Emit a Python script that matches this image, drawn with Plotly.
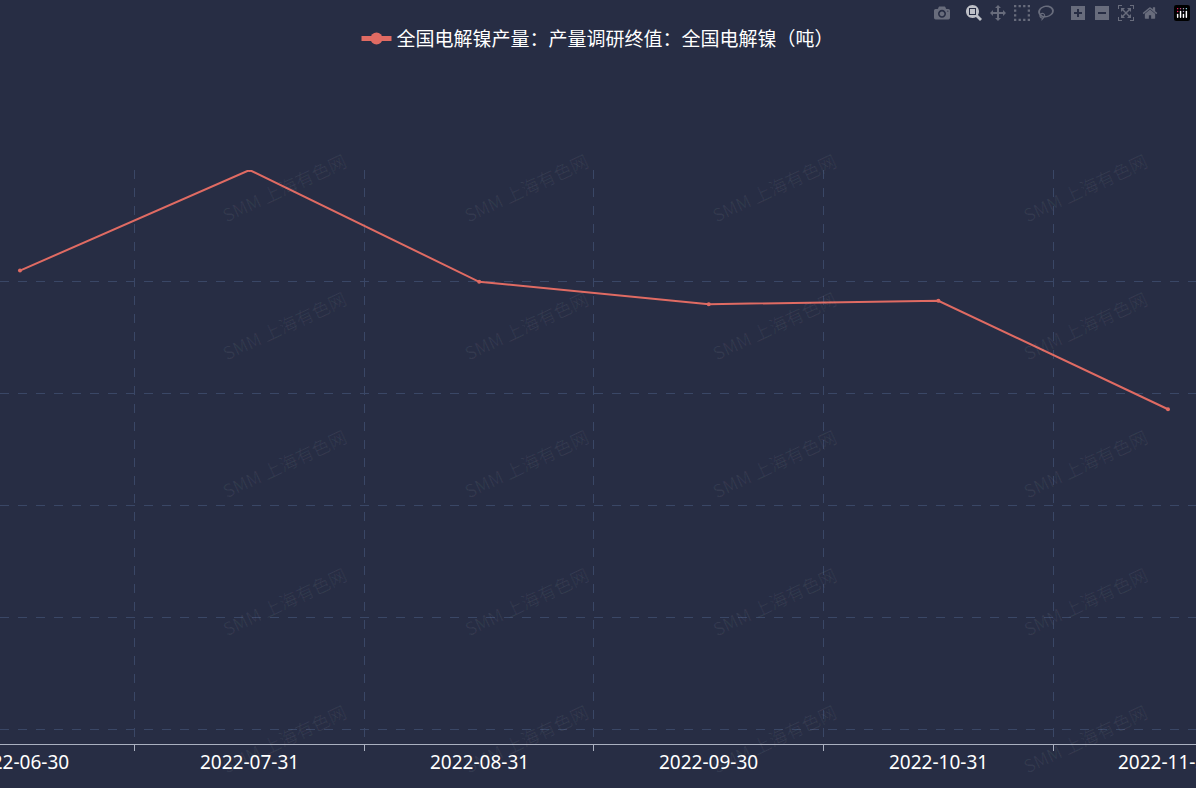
import plotly.graph_objects as go

dates = ["2022-06-30", "2022-07-31", "2022-08-31", "2022-09-30", "2022-10-31", "2022-11-30"]
values = [18100, 19000, 18000, 17800, 17830, 16860]
series_name = "全国电解镍产量：产量调研终值：全国电解镍（吨）"

fig = go.Figure()
fig.add_trace(go.Scatter(
    x=list(range(len(dates))), y=values, mode="lines+markers", name=series_name,
    line=dict(color="#e06b63", width=2), marker=dict(size=4, color="#e06b63"),
))

anns = []
for yy in [0.97, 0.73, 0.49, 0.25, 0.01]:
    for xx in [0.18, 0.44, 0.705, 0.965]:
        anns.append(dict(text="SMM 上海有色网", x=xx, y=yy, xref="paper", yref="paper",
                         yanchor="middle",
                         showarrow=False, textangle=-25,
                         font=dict(size=18, color="rgba(255,255,255,0.06)", family="Noto Sans CJK SC")))
for i, d in enumerate(dates):
    anns.append(dict(text=d, x=i, y=-0.005, xref="x", yref="paper", yanchor="top",
                     showarrow=False, font=dict(size=19, family="Noto Sans", color="#ffffff")))

fig.update_layout(
    width=1196, height=788,
    paper_bgcolor="#272d44", plot_bgcolor="#272d44",
    margin=dict(l=0, r=0, t=170, b=44),
    font=dict(family="Noto Sans CJK SC", color="#ffffff", size=18),
    showlegend=True,
    legend=dict(orientation="h", x=0.5, xanchor="center", y=0.975, yref="container",
                yanchor="top", font=dict(size=19, color="#ffffff"), bgcolor="rgba(0,0,0,0)",
                itemsizing="constant"),
    annotations=anns,
    xaxis=dict(range=[-0.087, 5.122], tickvals=list(range(len(dates))), ticktext=[""] * len(dates),
               showgrid=False, zeroline=False, showline=True, linecolor="#aab0c0",
               ticks="",
               minor=dict(tick0=0.5, dtick=1, ticks="outside", ticklen=6, tickcolor="#aab0c0",
                          showgrid=True, gridcolor="#3a4766", griddash="dash")),
    yaxis=dict(range=[13866, 19000], tickvals=[14000, 15000, 16000, 17000, 18000, 19000],
               showticklabels=False, gridcolor="#3a4766", griddash="dash", zeroline=False),
)
fig.write_html("out.html", post_script="document.body.style.margin='0';document.body.style.background='#272d44';")
